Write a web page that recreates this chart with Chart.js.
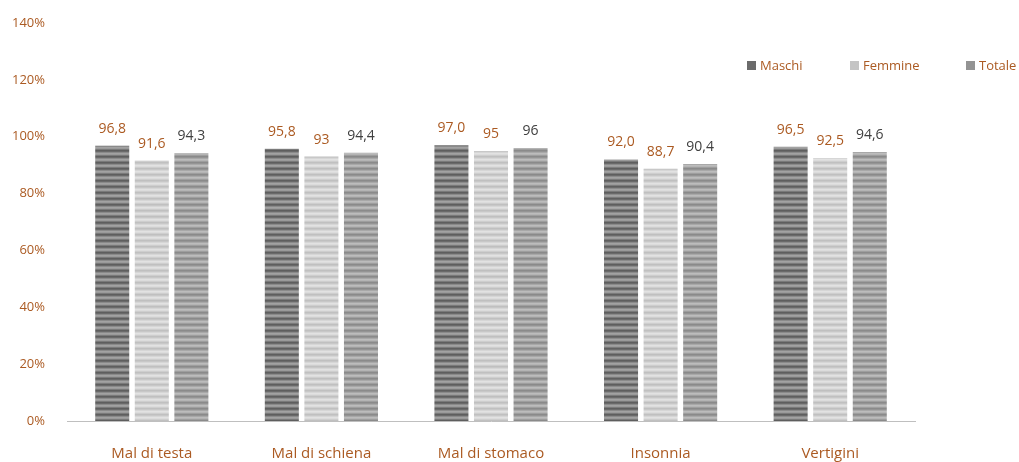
<!DOCTYPE html>
<html>
<head>
<meta charset="utf-8">
<script src="https://cdn.jsdelivr.net/npm/chart.js@4.4.0/dist/chart.umd.min.js"></script>
<style>
  body { margin: 0; background: #fff; }
  #wrap { width: 1019px; height: 462px; position: relative; }
</style>
</head>
<body>
<div id="wrap"><canvas id="chart"></canvas></div>
<script>
// Chart data
const categories = ['Mal di testa', 'Mal di schiena', 'Mal di stomaco', 'Insonnia', 'Vertigini'];
const maschi = [96.8, 95.8, 97.0, 92.0, 96.5];
const femmine = [91.6, 93, 95, 88.7, 92.5];
const totale = [94.3, 94.4, 96, 90.4, 94.6];
const seriesNames = ['Maschi', 'Femmine', 'Totale'];
const yTicks = [0, 20, 40, 60, 80, 100, 120, 140];

const orange = '#ab5a22';
const fontFamily = "'Open Sans', 'Liberation Sans', sans-serif";

// Horizontal striped fill like the original bars
function makeStripes(rows) {
    const c = document.createElement('canvas');
    c.width = 4;
    c.height = rows.length;
    const g = c.getContext('2d');
    rows.forEach((col, i) => {
        g.fillStyle = col;
        g.fillRect(0, i, 4, 1);
    });
    return g.createPattern(c, 'repeat');
}

const ctx = document.getElementById('chart').getContext('2d');

const seriesStyles = [
    { fill: makeStripes(['#5e5e5e', '#6a6a6a', '#8a8a8a', '#a2a2a2', '#9a9a9a', '#7a7a7a']), solid: '#6b6b6b', labelColor: orange, decimals: 1 },
    { fill: makeStripes(['#c0c0c0', '#c8c8c8', '#d6d6d6', '#e2e2e2', '#dcdcdc', '#cecece']), solid: '#c4c4c4', labelColor: orange, decimals: null },
    { fill: makeStripes(['#8a8a8a', '#949494', '#a8a8a8', '#bcbcbc', '#b4b4b4', '#9e9e9e']), solid: '#939393', labelColor: '#404040', decimals: null }
];

function formatValue(v, decimals) {
    const s = decimals === null ? String(v) : v.toFixed(decimals);
    return s.replace('.', ',');
}

// Value labels above the bars + legend in the top right
const labelsPlugin = {
    id: 'barLabels',
    afterDatasetsDraw(chart) {
        const c = chart.ctx;
        c.save();
        c.font = '14px ' + fontFamily;
        c.textAlign = 'center';
        c.textBaseline = 'bottom';
        chart.data.datasets.forEach((ds, i) => {
            const meta = chart.getDatasetMeta(i);
            c.fillStyle = seriesStyles[i].labelColor;
            meta.data.forEach((bar, j) => {
                c.fillText(formatValue(ds.data[j], seriesStyles[i].decimals), bar.x, bar.y - 10);
            });
        });

        // legend
        const legendX = [747, 850, 966];
        const legendY = 66;
        c.font = '13px ' + fontFamily;
        c.textAlign = 'left';
        c.textBaseline = 'middle';
        seriesNames.forEach((name, i) => {
            c.fillStyle = seriesStyles[i].solid;
            c.fillRect(legendX[i], legendY - 5, 9, 9);
            c.fillStyle = orange;
            c.fillText(name, legendX[i] + 13, legendY);
        });
        c.restore();
    }
};

const datasets = [maschi, femmine, totale].map((values, i) => ({
    label: seriesNames[i],
    data: values,
    backgroundColor: seriesStyles[i].fill,
    borderWidth: 0,
    categoryPercentage: 0.7,
    barPercentage: 0.86
}));

new Chart(ctx, {
    type: 'bar',
    data: {
        labels: categories,
        datasets: datasets
    },
    options: {
        responsive: true,
        maintainAspectRatio: false,
        animation: false,
        layout: {
            padding: { top: 23, right: 104, bottom: 0, left: 0 }
        },
        plugins: {
            legend: { display: false },
            tooltip: { enabled: false }
        },
        scales: {
            y: {
                min: 0,
                max: 140,
                afterBuildTicks: (scale) => {
                    scale.ticks = yTicks.map(v => ({ value: v }));
                },
                afterFit: (scale) => {
                    scale.width = 67;
                    scale.paddingTop = 0;
                    scale.paddingBottom = 0;
                },
                grid: { display: false, drawTicks: false },
                border: { display: false },
                ticks: {
                    color: orange,
                    padding: 22,
                    font: { size: 13, family: fontFamily },
                    callback: (v) => v + '%'
                }
            },
            x: {
                afterFit: (scale) => { scale.height = 41; },
                grid: { display: false, drawTicks: false },
                border: { display: true, color: '#bfbfbf', width: 1 },
                ticks: {
                    color: orange,
                    padding: 24,
                    font: { size: 15, family: fontFamily }
                }
            }
        }
    },
    plugins: [labelsPlugin]
});
</script>
</body>
</html>
